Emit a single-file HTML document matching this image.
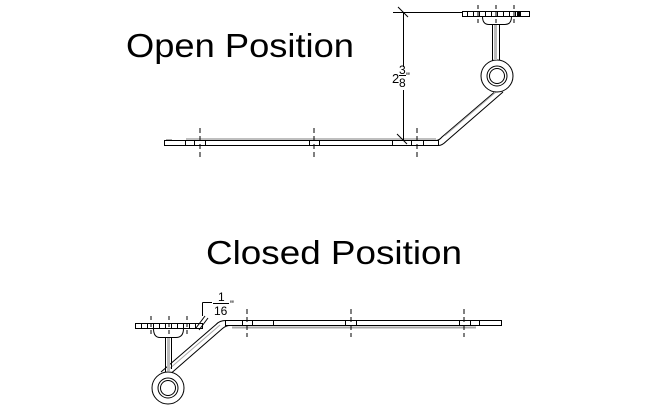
<!DOCTYPE html>
<html>
<head>
<meta charset="utf-8">
<style>
html,body{margin:0;padding:0;background:#fff;}
svg{display:block;}
text{font-family:"Liberation Sans",Arial,sans-serif;fill:#000;}
</style>
</head>
<body>
<svg width="660" height="420" viewBox="0 0 660 420" xmlns="http://www.w3.org/2000/svg">
<rect width="660" height="420" fill="#fff"/>

<!-- Titles -->
<text x="126" y="57" font-size="33" textLength="228" lengthAdjust="spacingAndGlyphs">Open Position</text>
<text x="206" y="264" font-size="33" textLength="256" lengthAdjust="spacingAndGlyphs">Closed Position</text>

<g stroke="#000" stroke-width="1" fill="none">
  <!-- ================= OPEN POSITION ================= -->
  <!-- gray shading above bar -->
  <line x1="186" y1="139" x2="436" y2="139" stroke="#999" stroke-width="1.2"/>
  <line x1="166" y1="139.5" x2="172" y2="139.5" stroke="#aaa"/>
  <!-- bar -->
  <rect x="164.5" y="140.5" width="274" height="5" fill="#fff"/>
  <line x1="185.5" y1="140.5" x2="185.5" y2="145.5"/>
  <line x1="194.5" y1="140.5" x2="194.5" y2="145.5"/>
  <line x1="205.5" y1="140.5" x2="205.5" y2="145.5"/>
  <line x1="309.5" y1="140.5" x2="309.5" y2="145.5"/>
  <line x1="319.5" y1="140.5" x2="319.5" y2="145.5"/>
  <line x1="392.5" y1="140.5" x2="392.5" y2="145.5"/>
  <line x1="411.5" y1="140.5" x2="411.5" y2="145.5"/>
  <line x1="423.5" y1="140.5" x2="423.5" y2="145.5"/>
  <!-- dashed center lines -->
  <g stroke-dasharray="5,3">
    <line x1="200" y1="128" x2="200" y2="157"/>
    <line x1="314" y1="128" x2="314" y2="157"/>
    <line x1="417" y1="128" x2="417" y2="157"/>
  </g>
  <!-- arm -->
  <path d="M436,140.5 Q439,140.5 442,137 L494,92.5" />
  <path d="M438.5,145.5 Q442,145.5 446,141.5 L503,92" />
  <line x1="445" y1="135.5" x2="496" y2="92" stroke="#aaa" stroke-width="1"/>
  <!-- ring -->
  <circle cx="497" cy="76" r="16" fill="#fff"/>
  <circle cx="497" cy="76" r="10"/>
  <circle cx="497" cy="76" r="7.5"/>
  <!-- stem -->
  <rect x="494" y="24" width="3" height="36" fill="#bbb" stroke="none"/>
  <line x1="492.5" y1="24" x2="492.5" y2="60.5"/>
  <line x1="499.5" y1="24" x2="499.5" y2="60.5"/>
  <!-- bracket -->
  <path d="M482.5,16.5 Q482.5,24.5 489,24.5 L505,24.5 Q511.5,24.5 511.5,16.5"/>
  <!-- plate -->
  <rect x="462.5" y="11.5" width="67" height="5" fill="#fff"/>
  <line x1="467.5" y1="11.5" x2="467.5" y2="16.5"/>
  <line x1="473.5" y1="11.5" x2="473.5" y2="16.5"/>
  <line x1="479.5" y1="11.5" x2="479.5" y2="16.5"/>
  <line x1="485.5" y1="11.5" x2="485.5" y2="16.5"/>
  <line x1="491.5" y1="11.5" x2="491.5" y2="16.5"/>
  <line x1="497.5" y1="11.5" x2="497.5" y2="16.5"/>
  <line x1="503.5" y1="11.5" x2="503.5" y2="16.5"/>
  <line x1="509.5" y1="11.5" x2="509.5" y2="16.5"/>
  <line x1="515.5" y1="11.5" x2="515.5" y2="16.5"/>
  <line x1="520.5" y1="11.5" x2="520.5" y2="16.5"/>
  <rect x="517" y="12" width="3" height="4" fill="#000" stroke="none"/>
  <g stroke-dasharray="4,3">
    <line x1="478" y1="5" x2="478" y2="23"/>
    <line x1="496" y1="5" x2="496" y2="23"/>
    <line x1="514" y1="5" x2="514" y2="23"/>
  </g>
  <!-- dimension 2 3/8" -->
  <line x1="393" y1="12.5" x2="462" y2="12.5"/>
  <line x1="403.5" y1="12" x2="403.5" y2="67"/>
  <line x1="403.5" y1="90" x2="403.5" y2="140"/>
  <line x1="398" y1="7" x2="408" y2="17"/>
  <line x1="397" y1="134" x2="407" y2="144"/>
  <line x1="399" y1="75.5" x2="406" y2="75.5"/>

  <!-- ================= CLOSED POSITION ================= -->
  <!-- gray shading under bar -->
  <line x1="232" y1="327.5" x2="476" y2="327.5" stroke="#aaa" stroke-width="2"/>
  <!-- bar -->
  <rect x="225.5" y="320.5" width="276" height="5" fill="#fff"/>
  <line x1="242.5" y1="320.5" x2="242.5" y2="325.5"/>
  <line x1="252.5" y1="320.5" x2="252.5" y2="325.5"/>
  <line x1="273.5" y1="320.5" x2="273.5" y2="325.5"/>
  <line x1="345.5" y1="320.5" x2="345.5" y2="325.5"/>
  <line x1="356.5" y1="320.5" x2="356.5" y2="325.5"/>
  <line x1="459.5" y1="320.5" x2="459.5" y2="325.5"/>
  <line x1="470.5" y1="320.5" x2="470.5" y2="325.5"/>
  <line x1="479.5" y1="320.5" x2="479.5" y2="325.5"/>
  <g stroke-dasharray="5,3">
    <line x1="247" y1="309" x2="247" y2="337"/>
    <line x1="351" y1="309" x2="351" y2="337"/>
    <line x1="464" y1="309" x2="464" y2="337"/>
  </g>
  <!-- arm -->
  <path d="M161,372 L216,324.5 Q219.5,320.5 226,320.5"/>
  <path d="M172,372.5 L222.5,328.5 Q226,325.5 230,325.5"/>
  <line x1="168" y1="370" x2="220" y2="325" stroke="#aaa"/>
  <!-- ring -->
  <circle cx="168" cy="388" r="16" fill="#fff"/>
  <circle cx="168" cy="388" r="10"/>
  <circle cx="168" cy="388" r="7.5"/>
  <!-- stem -->
  <rect x="167" y="337" width="3" height="34" fill="#bbb" stroke="none"/>
  <line x1="165.5" y1="337" x2="165.5" y2="372"/>
  <line x1="171.5" y1="337" x2="171.5" y2="369"/>
  <!-- bracket -->
  <path d="M153.5,328.5 Q153.5,337.5 160,337.5 L176,337.5 Q183.5,337.5 183.5,328.5"/>
  <!-- plate -->
  <rect x="135.5" y="323.5" width="67" height="5" fill="#fff"/>
  <line x1="141.5" y1="323.5" x2="141.5" y2="328.5"/>
  <line x1="147.5" y1="323.5" x2="147.5" y2="328.5"/>
  <line x1="153.5" y1="323.5" x2="153.5" y2="328.5"/>
  <line x1="159.5" y1="323.5" x2="159.5" y2="328.5"/>
  <line x1="165.5" y1="323.5" x2="165.5" y2="328.5"/>
  <line x1="171.5" y1="323.5" x2="171.5" y2="328.5"/>
  <line x1="177.5" y1="323.5" x2="177.5" y2="328.5"/>
  <line x1="183.5" y1="323.5" x2="183.5" y2="328.5"/>
  <line x1="189.5" y1="323.5" x2="189.5" y2="328.5"/>
  <line x1="195.5" y1="323.5" x2="195.5" y2="328.5"/>
  <g stroke-dasharray="4,3">
    <line x1="151" y1="316" x2="151" y2="336"/>
    <line x1="169" y1="316" x2="169" y2="336"/>
    <line x1="187" y1="316" x2="187" y2="336"/>
  </g>
  <!-- dimension 1/16" -->
  <line x1="202.5" y1="302.5" x2="202.5" y2="316"/>
  <line x1="202.5" y1="302.5" x2="212" y2="302.5"/>
  <line x1="196" y1="328" x2="205" y2="316"/>
  <line x1="199" y1="330" x2="208" y2="318"/>
  <line x1="213" y1="303.5" x2="229" y2="303.5"/>
</g>

<!-- dimension texts -->
<text x="392" y="83" font-size="13">2</text>
<text x="399" y="74" font-size="12">3</text>
<text x="399" y="87" font-size="12">8</text>
<text x="406" y="80" font-size="11">"</text>

<text x="218" y="301" font-size="12">1</text>
<text x="214" y="315" font-size="12">16</text>
<text x="230" y="308" font-size="11">"</text>
</svg>
</body>
</html>
